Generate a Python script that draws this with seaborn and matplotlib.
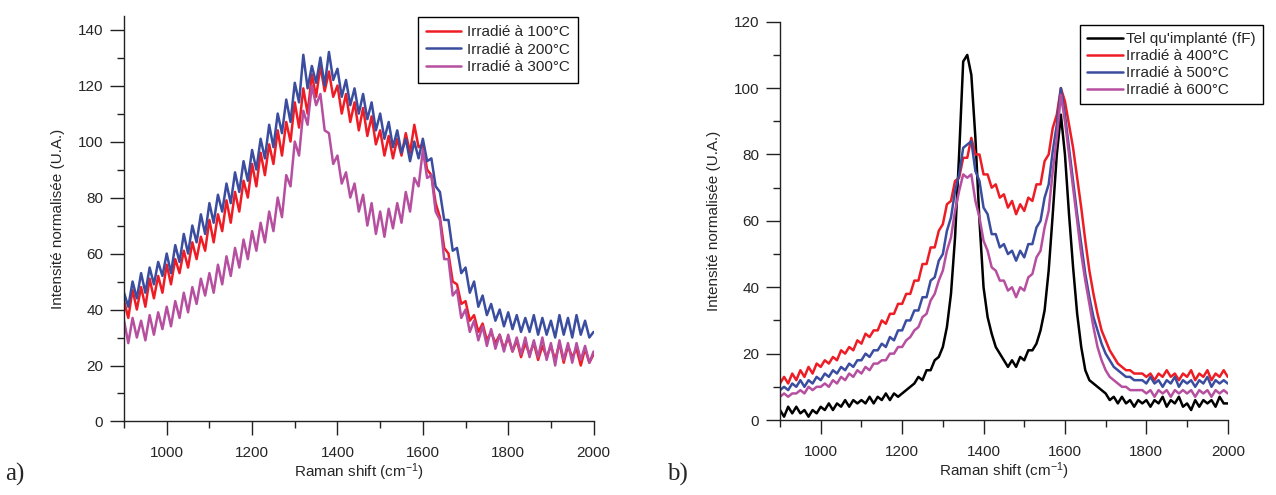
import numpy as np
import pandas as pd
import matplotlib
matplotlib.use("Agg")
import matplotlib.pyplot as plt
from matplotlib.ticker import MultipleLocator
import seaborn as sns

# Raman shift axis (cm-1), shared by both panels
shift = list(range(900, 2001, 10))

# panel a) - low temperature irradiations
irr_100 = [43, 37, 47, 40, 48, 41, 51, 44, 52, 46,
           56, 49, 58, 53, 61, 55, 64, 58, 66, 61,
           72, 64, 74, 68, 79, 71, 82, 75, 86, 80,
           92, 84, 96, 88, 99, 92, 104, 95, 107, 100,
           114, 105, 119, 110, 124, 116, 127, 118, 125, 116,
           120, 110, 117, 107, 114, 104, 112, 102, 109, 99,
           104, 95, 102, 94, 101, 95, 103, 96, 106, 98,
           99, 90, 88, 78, 73, 62, 60, 50, 49, 42,
           43, 36, 38, 32, 35, 29, 32, 28, 31, 26,
           30, 25, 29, 23, 28, 24, 28, 22, 27, 23,
           27, 22, 28, 21, 27, 23, 26, 20, 26, 21,
           24]
irr_200 = [46, 41, 50, 44, 53, 46, 55, 49, 57, 52,
           60, 53, 63, 57, 67, 60, 70, 64, 74, 67,
           78, 71, 81, 75, 85, 78, 89, 82, 93, 86,
           97, 90, 101, 94, 106, 98, 110, 103, 115, 107,
           121, 114, 131, 119, 127, 121, 130, 120, 132, 122,
           126, 116, 122, 113, 119, 110, 117, 108, 114, 104,
           110, 101, 107, 98, 104, 96, 101, 93, 100, 94,
           101, 93, 94, 84, 82, 72, 72, 61, 62, 53,
           55, 46, 50, 41, 45, 38, 42, 36, 40, 34,
           39, 33, 38, 32, 37, 32, 38, 31, 37, 31,
           36, 30, 38, 31, 37, 30, 38, 31, 36, 30,
           32]
irr_300 = [36, 28, 37, 30, 36, 29, 38, 31, 39, 33,
           41, 34, 43, 37, 46, 39, 48, 42, 51, 45,
           53, 46, 56, 49, 59, 52, 62, 55, 65, 58,
           68, 61, 71, 64, 75, 68, 80, 73, 88, 84,
           100, 95, 111, 106, 120, 113, 117, 104, 103, 92,
           95, 85, 89, 80, 85, 75, 81, 70, 78, 67,
           75, 66, 76, 69, 78, 71, 82, 75, 87, 84,
           97, 87, 88, 75, 72, 58, 58, 45, 47, 37,
           40, 32, 36, 29, 34, 27, 33, 26, 31, 25,
           31, 25, 30, 24, 30, 23, 29, 23, 30, 22,
           28, 20, 29, 22, 28, 21, 28, 22, 27, 21,
           25]

# panel b) - as implanted and high temperature irradiations
as_impl = [3, 1, 4, 2, 4, 2, 3, 1, 3, 2,
           4, 3, 5, 3, 5, 4, 6, 4, 6, 5,
           6, 5, 7, 5, 7, 6, 8, 6, 8, 7,
           8, 9, 10, 11, 13, 12, 15, 15, 18, 19,
           22, 28, 38, 55, 80, 108, 110, 104, 85, 60,
           40, 31, 26, 22, 20, 18, 16, 18, 16, 19,
           18, 21, 21, 23, 27, 33, 45, 62, 80, 92,
           80, 62, 46, 32, 22, 15, 12, 11, 10, 9,
           8, 6, 7, 5, 7, 5, 6, 4, 6, 5,
           6, 4, 6, 5, 7, 4, 6, 5, 7, 4,
           5, 3, 6, 4, 6, 5, 6, 4, 7, 5,
           5]
irr_400 = [11, 13, 11, 14, 12, 15, 13, 16, 14, 17,
           16, 18, 17, 19, 18, 21, 20, 22, 21, 24,
           23, 26, 25, 27, 27, 30, 29, 32, 32, 35,
           35, 38, 38, 42, 42, 47, 47, 52, 52, 57,
           59, 65, 66, 72, 73, 79, 79, 85, 80, 80,
           74, 74, 70, 71, 67, 68, 64, 66, 62, 65,
           63, 67, 66, 71, 71, 78, 80, 88, 92, 100,
           96, 89, 82, 73, 64, 54, 45, 38, 32, 27,
           24, 21, 19, 17, 16, 15, 15, 14, 14, 14,
           13, 14, 12, 14, 13, 15, 13, 14, 12, 14,
           13, 15, 12, 14, 13, 15, 12, 14, 13, 15,
           13]
irr_500 = [9, 10, 9, 11, 10, 12, 10, 12, 11, 13,
           12, 14, 13, 15, 14, 16, 15, 17, 16, 18,
           18, 20, 19, 21, 21, 23, 22, 25, 24, 27,
           27, 30, 30, 33, 33, 37, 37, 42, 43, 48,
           50, 57, 61, 69, 74, 82, 83, 84, 75, 72,
           64, 62, 56, 56, 52, 53, 50, 51, 48, 51,
           49, 53, 53, 58, 60, 67, 71, 81, 89, 100,
           92, 82, 72, 62, 53, 44, 37, 31, 27, 23,
           20, 18, 16, 15, 14, 13, 13, 12, 12, 12,
           11, 13, 11, 12, 10, 12, 11, 13, 10, 12,
           11, 12, 10, 12, 11, 13, 10, 12, 11, 12,
           11]
irr_600 = [7, 8, 7, 8, 8, 9, 8, 10, 9, 10,
           10, 11, 10, 12, 11, 13, 12, 14, 13, 15,
           14, 16, 15, 17, 17, 18, 18, 20, 20, 22,
           22, 24, 25, 27, 28, 31, 32, 36, 38, 42,
           45, 51, 55, 63, 69, 74, 73, 74, 66, 61,
           54, 51, 46, 45, 42, 42, 39, 40, 37, 40,
           39, 43, 44, 49, 51, 58, 63, 75, 85, 98,
           90, 80, 70, 60, 50, 42, 35, 28, 22, 18,
           15, 13, 12, 11, 10, 10, 9, 9, 9, 9,
           8, 9, 7, 9, 8, 9, 7, 9, 8, 9,
           8, 9, 7, 9, 8, 9, 7, 9, 8, 9,
           8]

labels_a = ["Irradié à 100°C", "Irradié à 200°C", "Irradié à 300°C"]
labels_b = ["Tel qu'implanté (fF)", "Irradié à 400°C", "Irradié à 500°C", "Irradié à 600°C"]

RED = "#ee1d25"
BLUE = "#3a4d9f"
MAG = "#b64f9f"

def long_df(series, labels):
    rows = []
    for vals, lab in zip(series, labels):
        rows.append(pd.DataFrame({"shift": shift, "I": vals, "sample": lab}))
    return pd.concat(rows, ignore_index=True)

df_a = long_df([irr_100, irr_200, irr_300], labels_a)
df_b = long_df([as_impl, irr_400, irr_500, irr_600], labels_b)

sns.set_style("ticks")
plt.rcParams["font.family"] = ["Liberation Sans", "DejaVu Sans"]
plt.rcParams["mathtext.fontset"] = "custom"
plt.rcParams["mathtext.rm"] = "Liberation Sans"
plt.rcParams["mathtext.it"] = "Liberation Sans:italic"

fig = plt.figure(figsize=(12.76, 4.95), dpi=100)
ax_a = fig.add_axes([0.0972, 0.1485, 0.368, 0.820])
ax_b = fig.add_axes([0.6113, 0.1515, 0.3509, 0.8046])

sns.lineplot(data=df_a, x="shift", y="I", hue="sample", palette=[RED, BLUE, MAG],
             sort=False, estimator=None, lw=1.8, ax=ax_a)
sns.lineplot(data=df_b, x="shift", y="I", hue="sample", palette=["black", RED, BLUE, MAG],
             sort=False, estimator=None, lw=1.8, ax=ax_b)

for ax, ymax in [(ax_a, 145), (ax_b, 120)]:
    ax.set_xlim(900, 2000)
    ax.set_ylim(0, ymax)
    ax.xaxis.set_major_locator(MultipleLocator(200))
    ax.xaxis.set_minor_locator(MultipleLocator(100))
    ax.yaxis.set_major_locator(MultipleLocator(20))
    ax.yaxis.set_minor_locator(MultipleLocator(10))
    ax.set_xticks([1000, 1200, 1400, 1600, 1800, 2000])
    sns.despine(ax=ax)
    for s in ["left", "bottom"]:
        ax.spines[s].set_linewidth(1.0)
        ax.spines[s].set_color("#222222")
    ax.tick_params(axis="both", which="major", length=10, width=1.0,
                   labelsize=11, color="#222222")
    ax.tick_params(axis="x", which="major", pad=8)
    ax.tick_params(axis="y", which="major", pad=5)
    ax.tick_params(axis="both", which="minor", length=5, width=1.0, color="#222222")
    ax.set_xlabel(r"Raman shift (cm$^{\mathregular{-1}}$)", fontsize=11, labelpad=1)
    ax.set_ylabel("Intensité normalisée (U.A.)", fontsize=11, labelpad=9)

handles, labels = ax_a.get_legend_handles_labels()
ax_a.legend(handles, labels, loc="upper right", bbox_to_anchor=(0.453, 0.9657),
            bbox_transform=fig.transFigure, fontsize=11, frameon=True, fancybox=False,
            edgecolor="black", framealpha=1, borderpad=0.55, labelspacing=0.22,
            handlelength=2.3, handletextpad=0.35, borderaxespad=0)
ax_a.get_legend().get_frame().set_linewidth(1.0)

handles, labels = ax_b.get_legend_handles_labels()
ax_b.legend(handles, labels, loc="upper right", bbox_to_anchor=(0.9898, 0.9495),
            bbox_transform=fig.transFigure, fontsize=11, frameon=True, fancybox=False,
            edgecolor="black", framealpha=1, borderpad=0.45, labelspacing=0.2,
            handlelength=2.4, handletextpad=0.2, borderaxespad=0)
ax_b.get_legend().get_frame().set_linewidth(1.0)

fig.text(0.004, 0.03, "a)", family=["Liberation Serif"], fontsize=18)
fig.text(0.523, 0.03, "b)", family=["Liberation Serif"], fontsize=18)

fig.savefig("out.png", dpi=100, facecolor="white")
